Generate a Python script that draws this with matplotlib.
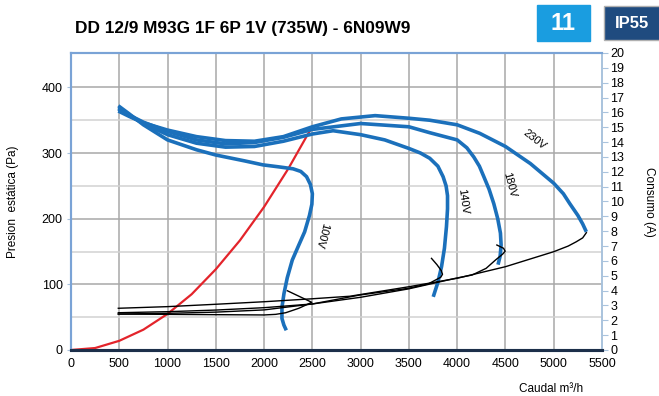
import matplotlib
matplotlib.use("Agg")
import matplotlib.pyplot as plt
from matplotlib.patches import Rectangle

plt.rcParams['font.family'] = ['Liberation Sans', 'DejaVu Sans']

title = "DD 12/9 M93G 1F 6P 1V (735W) - 6N09W9"

# pressure curves (Pa) vs flow (m3/h)
q_230 = [490, 600, 750, 1000, 1300, 1600, 1900, 2200, 2500, 2800, 3150, 3500, 3716, 4000, 4234,
         4500, 4758, 5000, 5100, 5166, 5250, 5300, 5338]
p_230 = [364, 356, 346, 335, 325, 319, 318, 325, 340, 352, 357, 353, 350, 343, 330,
         310, 284, 254, 238, 223, 205, 192, 180]

q_180 = [490, 600, 750, 1000, 1300, 1600, 1900, 2200, 2500, 3000, 3500, 3716, 4000, 4100, 4172,
         4230, 4276, 4330, 4379, 4420, 4448, 4455, 4445, 4423]
p_180 = [367, 358, 347, 333, 320, 314, 316, 324, 336, 345, 340, 331, 320, 308, 294,
         280, 264, 245, 223, 200, 178, 160, 143, 130]

q_140 = [490, 600, 750, 1000, 1300, 1600, 1900, 2200, 2500, 2715, 3000, 3250, 3500, 3620, 3716,
         3800, 3854, 3885, 3900, 3900, 3889, 3868, 3838, 3800, 3752]
p_140 = [369, 358, 345, 328, 315, 309, 310, 318, 329, 334, 328, 320, 307, 300, 292,
         280, 264, 250, 235, 215, 188, 155, 127, 103, 81]

q_100 = [490, 600, 750, 1000, 1300, 1500, 1800, 1988, 2150, 2300, 2380, 2440, 2480, 2500, 2495,
         2470, 2420, 2360, 2292, 2240, 2206, 2185, 2185, 2205, 2230]
p_100 = [372, 360, 343, 320, 305, 297, 288, 282, 279, 276, 272, 264, 252, 238, 222,
         205, 180, 160, 137, 110, 86, 65, 48, 38, 30]

# system curve
q_sys = [0, 250, 500, 750, 1000, 1250, 1500, 1750, 2000, 2250, 2489]
p_sys = [0, 3, 14, 31, 55, 85, 123, 167, 218, 276, 338]

# current draw (A) vs flow
qa_230 = [490, 1000, 1500, 2000, 2500, 2888, 3500, 4000, 4500, 5000, 5150, 5234, 5300, 5338]
a_230 = [2.81, 2.92, 3.08, 3.25, 3.45, 3.62, 4.26, 4.83, 5.61, 6.62, 7.0, 7.29, 7.55, 7.9]

qa_180 = [490, 1000, 1500, 2000, 2500, 3000, 3500, 3983, 4155, 4300, 4397, 4470, 4497, 4480, 4411]
a_180 = [2.51, 2.58, 2.69, 2.85, 3.1, 3.55, 4.12, 4.83, 5.05, 5.5, 6.06, 6.45, 6.65, 6.85, 7.07]

qa_140 = [490, 1000, 1500, 2000, 2500, 2990, 3490, 3700, 3775, 3830, 3848, 3835, 3790, 3734]
a_140 = [2.42, 2.47, 2.55, 2.7, 3.1, 3.70, 4.15, 4.45, 4.71, 4.9, 5.1, 5.35, 5.75, 6.17]

qa_100 = [490, 1000, 1500, 2000, 2120, 2224, 2360, 2494, 2241]
a_100 = [2.42, 2.4, 2.38, 2.36, 2.4, 2.51, 2.81, 3.21, 3.99]

# curve labels: text, flow, pressure, angle
labels = [("100V", 2595, 175, -105), ("140V", 4061, 226, -82),
          ("180V", 4545, 251, -75), ("230V", 4803, 320, -38)]

blue = "#1b70bb"
edge = "#a9c3dd"
edge_top = "#7aa3d6"

fig = plt.figure(figsize=(6.59, 3.96), dpi=100)
ax = fig.add_axes([71 / 659, 46 / 396, 531 / 659, 297 / 396])
ax2 = ax.twinx()

ax.set_xlim(0, 5500)
ax.set_ylim(0, 20 * 14.85 / 0.6565)
ax2.set_ylim(0, 20)

# grid
for x in range(500, 5500, 500):
    ax.axvline(x, color="#a8a8a8", lw=1.1, zorder=0)
for y in range(50, 401, 50):
    ax.axhline(y, color="#a8a8a8" if y % 100 == 0 else "#d2d2d2", lw=1.1, zorder=0)

ax.plot(q_sys, p_sys, color="#e3242b", lw=1.6, zorder=3)
for q, p in [(q_230, p_230), (q_180, p_180), (q_140, p_140), (q_100, p_100)]:
    ax.plot(q, p, color=blue, lw=2.6, solid_capstyle="butt", solid_joinstyle="round", zorder=4)

for q, a in [(qa_230, a_230), (qa_180, a_180), (qa_140, a_140), (qa_100, a_100)]:
    ax2.plot(q, a, color="black", lw=1.0, solid_joinstyle="round", zorder=5)

for txt, q, p, rot in labels:
    ax.text(q, p, txt, rotation=rot, fontsize=8, ha="center", va="center",
            rotation_mode="anchor", zorder=6)

ax.set_xticks(range(0, 5501, 500))
ax.set_yticks(range(0, 401, 100))
ax2.set_yticks(range(0, 21))
ax.tick_params(axis="x", labelsize=9, length=0, pad=6)
ax.tick_params(axis="y", labelsize=9, length=3, color=edge, pad=3)
ax2.tick_params(axis="y", labelsize=9, length=4, color=edge, pad=2)

for a in (ax, ax2):
    a.spines["left"].set_color(edge_top)
    a.spines["right"].set_color(edge)
    a.spines["top"].set_color(edge_top)
    a.spines["bottom"].set_color("#1c2f4a")
    a.spines["bottom"].set_linewidth(2.2)
    a.spines["left"].set_linewidth(1.5)
    a.spines["right"].set_linewidth(1.2)
    a.spines["top"].set_linewidth(1.5)

ax.set_ylabel("Presion  estática (Pa)", fontsize=8.5, labelpad=16)
ax2.set_ylabel("Consumo (A)", fontsize=8.5, rotation=-90, labelpad=22)
fig.text(551 / 659, 1 - 389 / 396, "Caudal m³/h", fontsize=8.5, ha="center", va="center")

fig.text(75 / 659, 1 - 29 / 396, title, fontsize=12.4, fontweight="bold", va="center")

# badges
fig.patches.append(Rectangle((537 / 659, 1 - 41 / 396), 53 / 659, 36 / 396,
                             transform=fig.transFigure, color="#1a9de0", zorder=1))
fig.text(563.5 / 659, 1 - 23 / 396, "11", color="white", fontsize=17,
         fontweight="bold", ha="center", va="center")
fig.patches.append(Rectangle((604 / 659, 1 - 40 / 396), 56 / 659, 34 / 396,
                             transform=fig.transFigure, facecolor="#1f4b7f",
                             edgecolor="#b0b0b0", lw=1, zorder=1))
fig.text(632 / 659, 1 - 23 / 396, "IP55", color="white", fontsize=12,
         fontweight="bold", ha="center", va="center")

fig.savefig("out.png", dpi=100)
